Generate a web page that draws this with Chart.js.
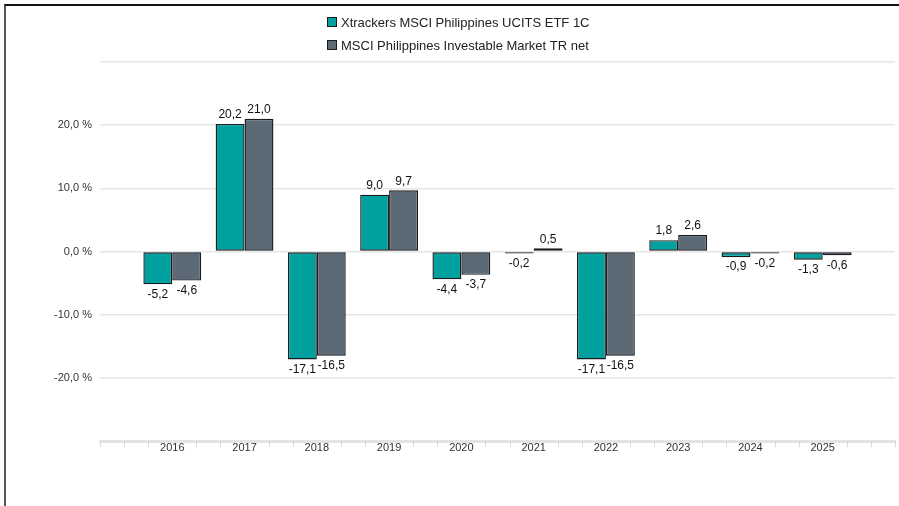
<!DOCTYPE html>
<html>
<head>
<meta charset="utf-8">
<script src="https://cdn.jsdelivr.net/npm/chart.js@4/dist/chart.umd.min.js"></script>
<style>
  html, body { margin: 0; padding: 0; background: #fff; }
  #wrap { position: relative; width: 899px; height: 506px; overflow: hidden; }
  #c { position: absolute; left: 0; top: 0; }
  #frame { position: absolute; left: 4px; top: 4px; width: 900px; height: 510px;
           border-top: 2px solid #111; border-left: 2px solid #555; pointer-events: none; }
</style>
</head>
<body>
<div id="wrap">
  <canvas id="c" width="899" height="506"></canvas>
  <div id="frame"></div>
</div>
<script>
const categories = ['', '2016', '2017', '2018', '2019', '2020', '2021', '2022', '2023', '2024', '2025', ''];
const fundName = 'Xtrackers MSCI Philippines UCITS ETF 1C';
const indexName = 'MSCI Philippines Investable Market TR net';
const fundValues = [null, -5.2, 20.2, -17.1, 9.0, -4.4, -0.2, -17.1, 1.8, -0.9, -1.3, null];
const indexValues = [null, -4.6, 21.0, -16.5, 9.7, -3.7, 0.5, -16.5, 2.6, -0.2, -0.6, null];
const yTicks = [-30, -20, -10, 0, 10, 20, 30];

const FONT = '"Liberation Sans", Arial, sans-serif';
const fmt = v => v.toFixed(1).replace('.', ',');

const valueLabels = {
  id: 'valueLabels',
  afterDatasetsDraw(chart) {
    const ctx = chart.ctx;
    ctx.save();
    ctx.font = '12px ' + FONT;
    ctx.fillStyle = '#111';
    ctx.textAlign = 'center';
    chart.data.datasets.forEach((ds, di) => {
      const meta = chart.getDatasetMeta(di);
      meta.data.forEach((bar, i) => {
        const v = ds.data[i];
        if (v === null || v === undefined) return;
        if (v >= 0) {
          ctx.textBaseline = 'bottom';
          ctx.fillText(fmt(v), bar.x, bar.y - 3);
        } else {
          ctx.textBaseline = 'top';
          ctx.fillText(fmt(v), bar.x, bar.y + 4);
        }
      });
    });
    ctx.restore();
  }
};

const stackedLegend = {
  id: 'stackedLegend',
  afterDraw(chart) {
    const ctx = chart.ctx;
    ctx.save();
    ctx.font = '13px ' + FONT;
    ctx.textBaseline = 'middle';
    ctx.textAlign = 'left';
    const x0 = 327;
    chart.data.datasets.forEach((ds, i) => {
      const yc = 22 + i * 23;
      ctx.fillStyle = ds.backgroundColor;
      ctx.fillRect(x0, yc - 5, 10, 10);
      ctx.strokeStyle = ds.borderColor;
      ctx.lineWidth = 1;
      ctx.strokeRect(x0 + 0.5, yc - 4.5, 9, 9);
      ctx.fillStyle = '#222';
      ctx.fillText(ds.label, x0 + 14, yc + 1);
    });
    ctx.restore();
  }
};

const axisMarks = {
  id: 'axisMarks',
  afterDraw(chart) {
    const xs = chart.scales.x;
    const ctx = chart.ctx;
    const y0 = chart.chartArea.bottom;
    ctx.save();
    ctx.strokeStyle = '#d9d9d9';
    ctx.lineWidth = 1;
    const n = (categories.length - 1) * 3;
    for (let k = 0; k <= n; k++) {
      if (k % 3 === 0 && k !== 0 && k !== n) continue;
      const x = Math.round(xs.getPixelForValue(k / 3)) + 0.5;
      ctx.beginPath();
      ctx.moveTo(x, y0);
      ctx.lineTo(x, y0 + 6);
      ctx.stroke();
    }
    ctx.restore();
  }
};

new Chart(document.getElementById('c'), {
  type: 'bar',
  data: {
    labels: categories,
    datasets: [
      { label: fundName, data: fundValues, backgroundColor: '#00a09f', borderColor: '#161c20',
        borderWidth: 1.4, borderSkipped: false, minBarLength: 2, categoryPercentage: 0.8, barPercentage: 1.0 },
      { label: indexName, data: indexValues, backgroundColor: '#5b6a74', borderColor: '#161c20',
        borderWidth: 1.4, borderSkipped: false, minBarLength: 2, categoryPercentage: 0.8, barPercentage: 1.0 }
    ]
  },
  options: {
    responsive: false,
    animation: false,
    devicePixelRatio: 1,
    layout: { padding: { left: 0, right: 4, top: 62, bottom: 45 } },
    plugins: {
      tooltip: { enabled: false },
      legend: { display: false }
    },
    scales: {
      x: {
        type: 'category',
        offset: false,
        grid: { display: false, drawOnChartArea: false, drawTicks: false },
        border: { display: true, color: '#e4e4e4', width: 3 },
        ticks: {
          color: '#333', padding: 0, maxRotation: 0, autoSkip: false,
          font: { family: FONT, size: 11 }
        },
        afterFit(scale) { scale.height = 20; }
      },
      y: {
        min: -30, max: 30,
        afterBuildTicks(scale) { scale.ticks = yTicks.map(v => ({ value: v })); },
        grid: { color: '#e6e6e6', lineWidth: 1.5, drawTicks: false },
        border: { display: false },
        ticks: {
          color: '#333', padding: 8,
          font: { family: FONT, size: 11 },
          callback: v => (Math.abs(v) === 30 ? '' : fmt(v) + ' %')
        },
        afterFit(scale) { scale.width = 100; }
      }
    }
  },
  plugins: [valueLabels, stackedLegend, axisMarks]
});
</script>
</body>
</html>
